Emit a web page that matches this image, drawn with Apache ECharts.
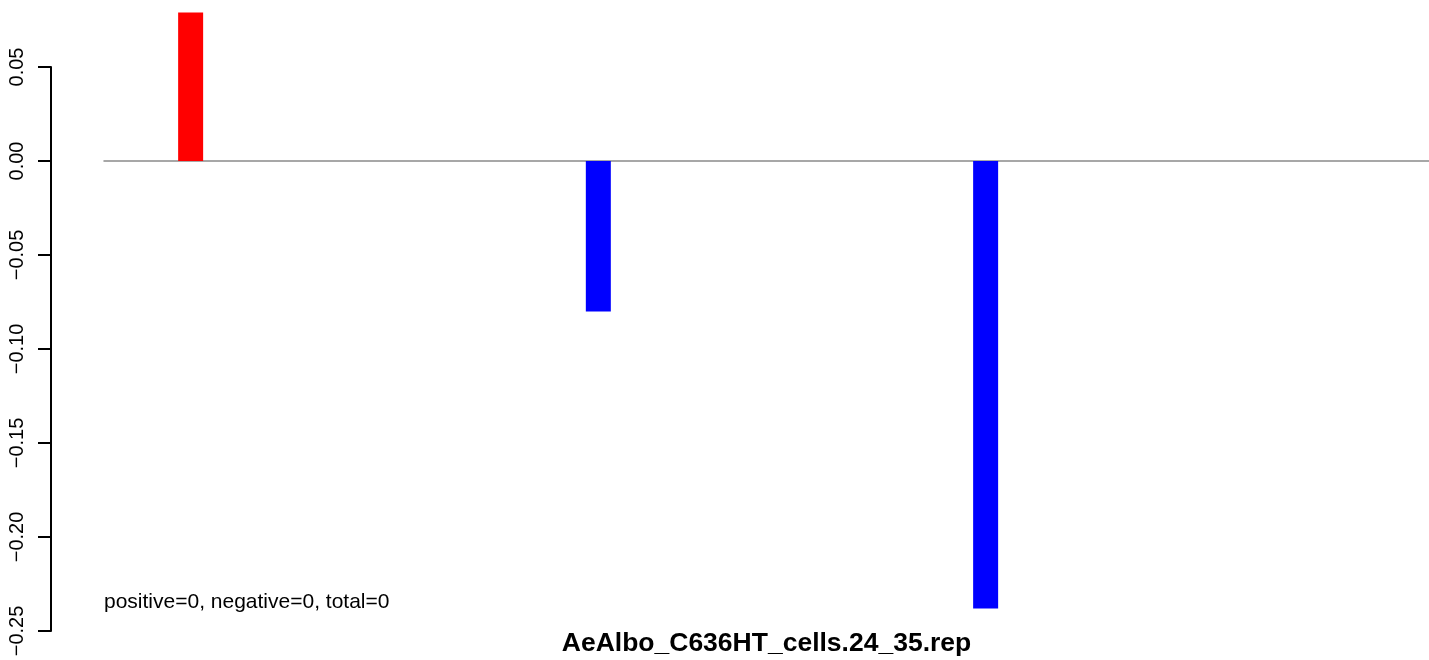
<!DOCTYPE html>
<html>
<head>
<meta charset="utf-8">
<script src="https://cdn.jsdelivr.net/npm/echarts@6/dist/echarts.min.js"></script>
<style>
html,body{margin:0;padding:0;background:#fff;}
#chart{width:1429px;height:660px;}
</style>
</head>
<body>
<div id="chart"></div>
<script>
// ---- data ----
var slotCount = 130;                 // number of bar slots along the x axis
var barSlots = [8, 48, 86];          // slot index of each non-empty bar
var barValues = [0.079, -0.080, -0.238];
var yTicks = [-0.25, -0.20, -0.15, -0.10, -0.05, 0.00, 0.05];
var titleText = 'AeAlbo_C636HT_cells.24_35.rep';
var noteText = 'positive=0, negative=0, total=0';

var categories = [];
for (var i = 0; i < slotCount; i++) categories.push(String(i + 1));

var barData = barSlots.map(function (s, k) {
  var v = barValues[k];
  return { value: [s, v], itemStyle: { color: v >= 0 ? '#FF0000' : '#0000FF' } };
});

var FONT = '"Liberation Sans", Arial, Helvetica, sans-serif';
var chart = echarts.init(document.getElementById('chart'), null, { renderer: 'canvas' });

chart.setOption({
  backgroundColor: '#ffffff',
  animation: false,
  grid: [
    { left: 104, right: 0, top: 10.6, bottom: 29 },
    { left: 51, width: 1, top: 67, bottom: 29 }
  ],
  xAxis: [
    {
      gridIndex: 0, type: 'category', data: categories,
      axisLine: { show: true, onZero: true, lineStyle: { color: '#8a8a8a', width: 1.5 } },
      axisTick: { show: false }, axisLabel: { show: false }, splitLine: { show: false }
    },
    { gridIndex: 1, type: 'value', show: false }
  ],
  yAxis: [
    {
      gridIndex: 0, type: 'value', min: -0.25, max: 0.08, show: false,
      splitLine: { show: false }
    },
    {
      gridIndex: 1, type: 'value', min: yTicks[0], max: yTicks[yTicks.length - 1], interval: 0.05,
      position: 'left',
      axisLine: { show: true, lineStyle: { color: '#000', width: 2 } },
      axisTick: { show: true, length: 13, lineStyle: { color: '#000', width: 2 } },
      splitLine: { show: false },
      axisLabel: {
        rotate: 90, margin: 24, fontSize: 20, color: '#000', fontFamily: FONT,
        formatter: function (v) { return v.toFixed(2).replace('-', '\u2212'); }
      }
    }
  ],
  series: [
    {
      type: 'bar', xAxisIndex: 0, yAxisIndex: 0, barWidth: 25,
      data: barData
    }
  ],
  graphic: [
    {
      type: 'text', left: 104, top: 592,
      style: { text: noteText, font: '21px ' + FONT, fill: '#000' }
    },
    {
      type: 'text', x: 766.5, y: 644,
      style: { text: titleText, font: 'bold 26.5px ' + FONT, fill: '#000', align: 'center', verticalAlign: 'middle' }
    }
  ]
});
</script>
</body>
</html>
